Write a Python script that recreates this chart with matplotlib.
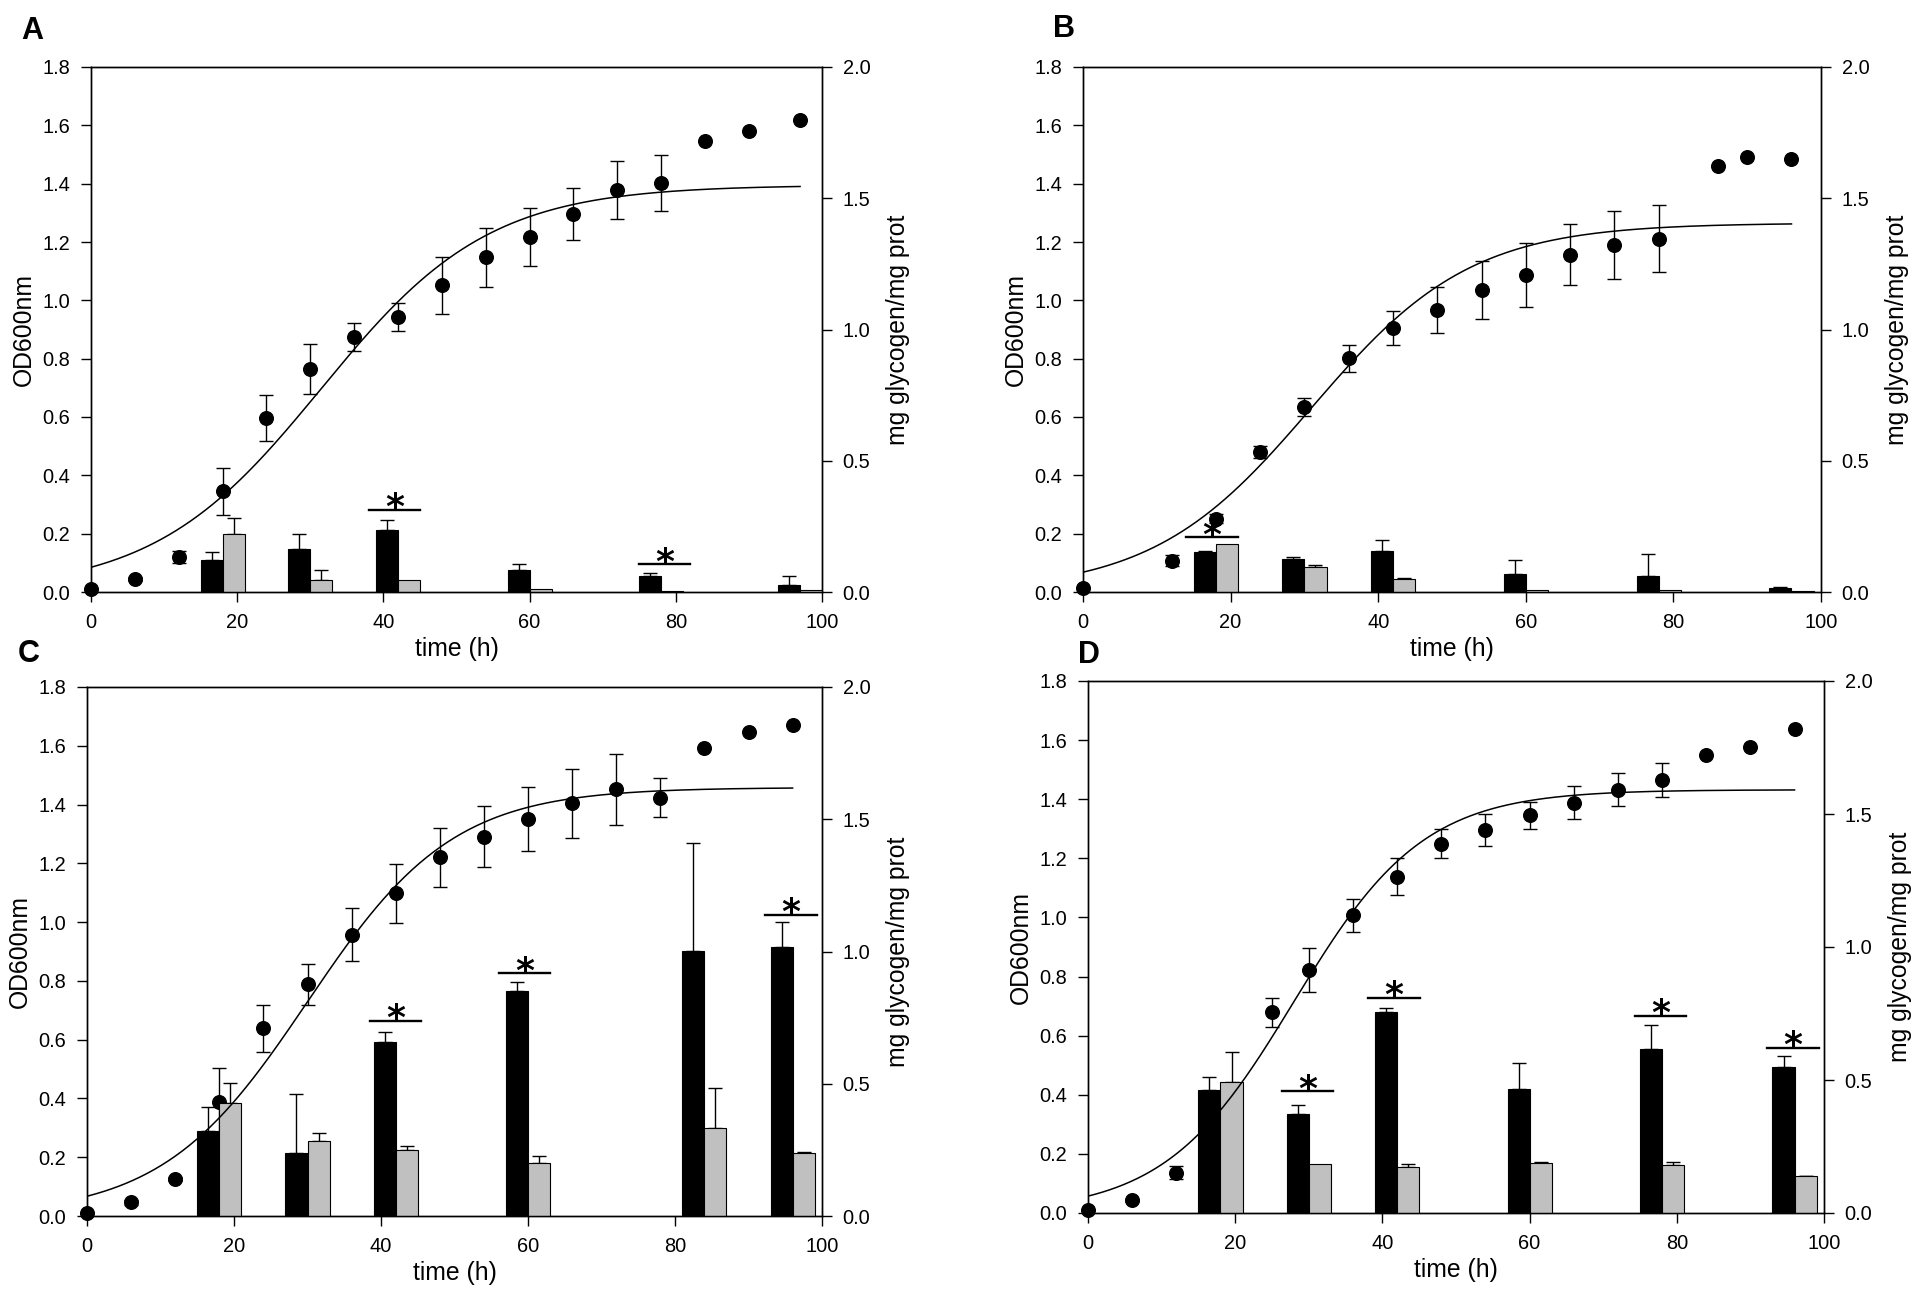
import numpy as np
import matplotlib
matplotlib.use("Agg")
import matplotlib.pyplot as plt

plt.rcParams['font.family'] = ['Liberation Sans', 'DejaVu Sans']

# ---------------- data ----------------
# Panel A
tA = [0, 6, 12, 18, 24, 30, 36, 42, 48, 54, 60, 66, 72, 78, 84, 90, 97]
odA = [0.011, 0.045, 0.12, 0.345, 0.596, 0.765, 0.875, 0.942, 1.051, 1.147, 1.218, 1.296,
       1.378, 1.402, 1.545, 1.581, 1.618]
errA = [0, 0.006, 0.02, 0.08, 0.078, 0.085, 0.048, 0.048, 0.097, 0.1, 0.1, 0.09, 0.1, 0.095,
        np.nan, np.nan, np.nan]
fitA = (1.395, 31.5, 11.5, 97)  # plateau, midpoint, slope, end of fitted range
grpA = [18, 30, 42, 60, 78, 97]
blackA = [0.123, 0.165, 0.236, 0.085, 0.06, 0.028]
blackA_err = [0.031, 0.055, 0.038, 0.022, 0.011, 0.032]
grayA = [0.222, 0.047, 0.047, 0.011, 0.003, 0.009]
grayA_err = [0.06, 0.036, 0, 0, 0, 0]
sigA_x = [41.5, 78.5]
sigA_y = [0.313, 0.105]

# Panel B
tB = [0, 12, 18, 24, 30, 36, 42, 48, 54, 60, 66, 72, 78, 86, 90, 96]
odB = [0.014, 0.108, 0.252, 0.479, 0.635, 0.802, 0.904, 0.967, 1.035, 1.086, 1.157, 1.19,
       1.212, 1.462, 1.491, 1.484]
errB = [0, 0.018, 0.017, 0.02, 0.03, 0.046, 0.058, 0.08, 0.1, 0.11, 0.105, 0.116, 0.115,
        np.nan, np.nan, np.nan]
fitB = (1.265, 31.0, 10.8, 96)
grpB = [18, 30, 42, 60, 78, 96]
blackB = [0.151, 0.127, 0.157, 0.069, 0.061, 0.017]
blackB_err = [0.006, 0.005, 0.041, 0.052, 0.085, 0.002]
grayB = [0.184, 0.096, 0.049, 0.008, 0.008, 0.005]
grayB_err = [0, 0.008, 0.005, 0, 0, 0]
sigB_x = [17.5]
sigB_y = [0.208]

# Panel C
tC = [0, 6, 12, 18, 24, 30, 36, 42, 48, 54, 60, 66, 72, 78, 84, 90, 96]
odC = [0.011, 0.047, 0.126, 0.388, 0.638, 0.788, 0.957, 1.098, 1.22, 1.291, 1.351, 1.404,
       1.452, 1.424, 1.591, 1.648, 1.669]
errC = [0, 0.008, 0.008, 0.115, 0.08, 0.07, 0.09, 0.1, 0.1, 0.104, 0.108, 0.118, 0.12, 0.067,
        np.nan, np.nan, np.nan]
fitC = (1.458, 30.0, 9.9, 96)
grpC = [18, 30, 42, 60, 84, 96]
blackC = [0.323, 0.237, 0.656, 0.85, 1.003, 1.016]
blackC_err = [0.088, 0.226, 0.04, 0.035, 0.406, 0.097]
grayC = [0.428, 0.283, 0.248, 0.199, 0.331, 0.237]
grayC_err = [0.075, 0.029, 0.016, 0.027, 0.153, 0.005]
sigC_x = [42, 59.5, 95.8]
sigC_y = [0.737, 0.917, 1.139]

# Panel D
tD = [0, 6, 12, 25, 30, 36, 42, 48, 54, 60, 66, 72, 78, 84, 90, 96]
odD = [0.011, 0.043, 0.137, 0.679, 0.823, 1.007, 1.138, 1.25, 1.296, 1.345, 1.388, 1.432,
       1.465, 1.551, 1.578, 1.638]
errD = [0, 0.006, 0.023, 0.05, 0.075, 0.055, 0.062, 0.05, 0.054, 0.046, 0.056, 0.056, 0.056,
        np.nan, np.nan, np.nan]
fitD = (1.432, 28.0, 8.8, 96)
grpD = [18, 30, 42, 60, 78, 96]
blackD = [0.462, 0.371, 0.757, 0.466, 0.616, 0.549]
blackD_err = [0.05, 0.035, 0.013, 0.099, 0.09, 0.04]
grayD = [0.494, 0.183, 0.172, 0.188, 0.181, 0.138]
grayD_err = [0.11, 0, 0.013, 0.002, 0.01, 0.002]
sigD_x = [29.8, 41.6, 77.8, 95.8]
sigD_y = [0.457, 0.808, 0.74, 0.622]

panel_labels = ['A', 'B', 'C', 'D']
xticks = [0, 20, 40, 60, 80, 100]
yticks_left = [0.0, 0.2, 0.4, 0.6, 0.8, 1.0, 1.2, 1.4, 1.6, 1.8]
yticks_right = [0.0, 0.5, 1.0, 1.5, 2.0]
xlabel = 'time (h)'
ylabel_left = 'OD600nm'
ylabel_right = 'mg glycogen/mg prot'

# ---------------- layout ----------------
W, H = 1918, 1300
fig = plt.figure(figsize=(W / 100, H / 100), dpi=100)

def rect(l, t, r, b):
    return [l / W, 1 - b / H, (r - l) / W, (b - t) / H]

rects = [rect(91, 67, 822, 592), rect(1083, 67, 1821, 592),
         rect(87, 687, 822, 1216), rect(1088, 681, 1824, 1213)]
label_pos = [(21, 39), (1053, 37), (18, 662), (1078, 663)]

panels = [
    (tA, odA, errA, fitA, grpA, blackA, blackA_err, grayA, grayA_err, sigA_x, sigA_y),
    (tB, odB, errB, fitB, grpB, blackB, blackB_err, grayB, grayB_err, sigB_x, sigB_y),
    (tC, odC, errC, fitC, grpC, blackC, blackC_err, grayC, grayC_err, sigC_x, sigC_y),
    (tD, odD, errD, fitD, grpD, blackD, blackD_err, grayD, grayD_err, sigD_x, sigD_y),
]

TICK_FS = 14.4
LAB_FS = 17.8
LW = 1.0
BW = 3.0
GRAY = '#c0c0c0'

for i, (t, od, err, fit, grp, blk, blk_e, gry, gry_e, sx, sy) in enumerate(panels):
    ax = fig.add_axes(rects[i])
    ax2 = ax.twinx()

    t = np.array(t, float); od = np.array(od, float); err = np.array(err, float)
    has = ~np.isnan(err)

    # points with error bars (drawn under the bars)
    ax.errorbar(t[has], od[has], yerr=err[has], fmt='o', color='k', ms=9.8,
                capsize=5, elinewidth=1.0, capthick=1.0, clip_on=False, zorder=3)
    ax.plot(t[~has], od[~has], 'o', color='k', ms=9.8, clip_on=False, zorder=3)

    # bars on right axis
    grp = np.array(grp, float)
    blk = np.array(blk); blk_e = np.array(blk_e)
    gry = np.array(gry); gry_e = np.array(gry_e)
    xb = grp - BW / 2
    xg = grp + BW / 2
    ax2.bar(xb, blk, width=BW, color='k', edgecolor='k', linewidth=0.8, zorder=2)
    ax2.bar(xg, gry, width=BW, color=GRAY, edgecolor='k', linewidth=0.8, zorder=2)
    m = blk_e > 0
    ax2.errorbar(xb[m], blk[m], yerr=[np.zeros(m.sum()), blk_e[m]], fmt='none',
                 ecolor='k', elinewidth=1.0, capsize=5, capthick=1.0, zorder=1)
    m = gry_e > 0
    ax2.errorbar(xg[m], gry[m], yerr=[np.zeros(m.sum()), gry_e[m]], fmt='none',
                 ecolor='k', elinewidth=1.0, capsize=5, capthick=1.0, zorder=1)

    # fitted sigmoid (left-axis units), drawn above the bars
    a, x0, b, xend = fit
    xs = np.linspace(0, xend, 400)
    ys = a / (1 + np.exp(-(xs - x0) / b))
    ax2.plot(xs, ys, color='k', lw=1.1, transform=ax.transData, zorder=4)

    # significance markers
    for x, y in zip(sx, sy):
        ax2.plot([x - 3.5, x + 3.5], [y, y], color='k', lw=1.7, zorder=4)
        ax2.annotate('*', (x, y), xytext=(0, -6), textcoords='offset points',
                     ha='center', va='baseline', fontsize=26, family='DejaVu Sans',
                     fontweight='bold', zorder=5)

    ax.set_xlim(0, 100)
    ax.set_ylim(0, 1.8)
    ax2.set_ylim(0, 2.0)
    ax.set_xticks(xticks)
    ax.set_yticks(yticks_left)
    ax2.set_yticks(yticks_right)
    ax.set_xticklabels([str(v) for v in xticks])
    ax.set_yticklabels([f'{v:.1f}' for v in yticks_left])
    ax2.set_yticklabels([f'{v:.1f}' for v in yticks_right])

    for a_ in (ax, ax2):
        a_.tick_params(direction='out', length=7.3, width=LW, pad=7.5,
                       labelsize=TICK_FS, colors='k')
        for sp in a_.spines.values():
            sp.set_linewidth(LW)
    ax.tick_params(top=False, right=False)

    ax.set_xlabel(xlabel, fontsize=LAB_FS, labelpad=4)
    ax.set_ylabel(ylabel_left, fontsize=LAB_FS, labelpad=5)
    ax2.set_ylabel(ylabel_right, fontsize=LAB_FS, labelpad=11)

    lx, ly = label_pos[i]
    fig.text(lx / W, 1 - ly / H, panel_labels[i], fontsize=22, fontweight='bold',
             ha='left', va='baseline')

fig.savefig('out.png', dpi=100)
